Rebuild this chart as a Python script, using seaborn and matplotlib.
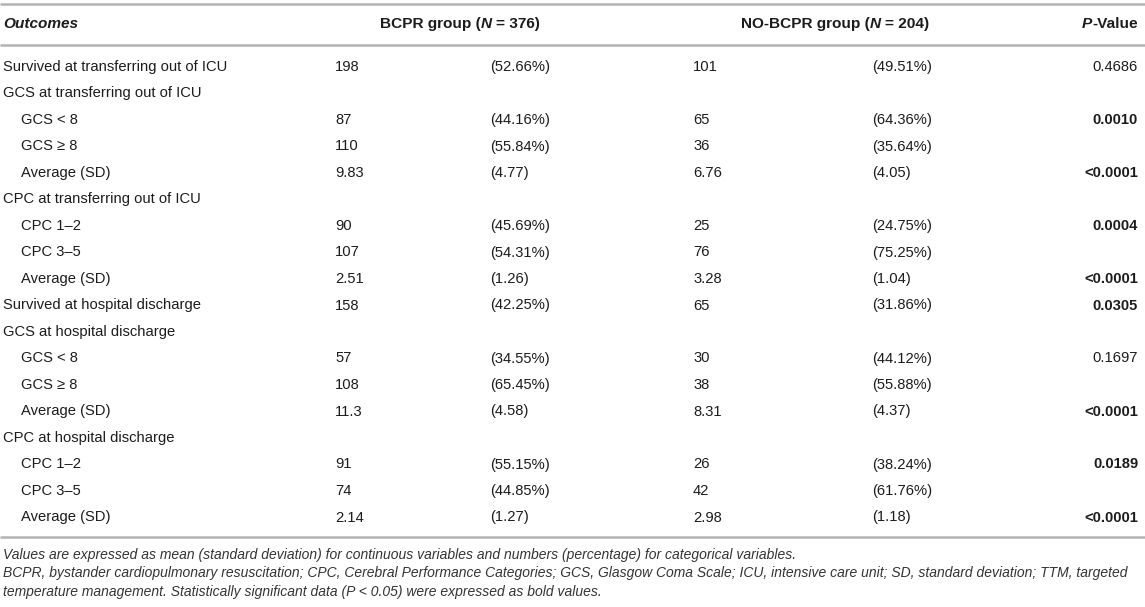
import matplotlib
matplotlib.use("Agg")
import matplotlib.pyplot as plt
import seaborn as sns

sns.set_theme(style="white")
plt.rcParams['font.family'] = ['Liberation Sans', 'DejaVu Sans']

# table content
labels = ["Survived at transferring out of ICU", "GCS at transferring out of ICU",
          "GCS < 8", "GCS \u2265 8", "Average (SD)",
          "CPC at transferring out of ICU", "CPC 1\u20132", "CPC 3\u20135", "Average (SD)",
          "Survived at hospital discharge", "GCS at hospital discharge",
          "GCS < 8", "GCS \u2265 8", "Average (SD)",
          "CPC at hospital discharge", "CPC 1\u20132", "CPC 3\u20135", "Average (SD)"]
indented = [0, 0, 1, 1, 1, 0, 1, 1, 1, 0, 0, 1, 1, 1, 0, 1, 1, 1]
bcpr_n = ["198", "", "87", "110", "9.83", "", "90", "107", "2.51",
          "158", "", "57", "108", "11.3", "", "91", "74", "2.14"]
bcpr_pct = ["(52.66%)", "", "(44.16%)", "(55.84%)", "(4.77)", "", "(45.69%)", "(54.31%)", "(1.26)",
            "(42.25%)", "", "(34.55%)", "(65.45%)", "(4.58)", "", "(55.15%)", "(44.85%)", "(1.27)"]
nobcpr_n = ["101", "", "65", "36", "6.76", "", "25", "76", "3.28",
            "65", "", "30", "38", "8.31", "", "26", "42", "2.98"]
nobcpr_pct = ["(49.51%)", "", "(64.36%)", "(35.64%)", "(4.05)", "", "(24.75%)", "(75.25%)", "(1.04)",
              "(31.86%)", "", "(44.12%)", "(55.88%)", "(4.37)", "", "(38.24%)", "(61.76%)", "(1.18)"]
p_values = ["0.4686", "", "0.0010", "", "<0.0001", "", "0.0004", "", "<0.0001",
            "0.0305", "", "0.1697", "", "<0.0001", "", "0.0189", "", "<0.0001"]
p_bold = [0, 0, 1, 0, 1, 0, 1, 0, 1, 1, 0, 0, 0, 1, 0, 1, 0, 1]

headers = [("BCPR group (", "N", "= 376)"), ("NO-BCPR group (", "N", "= 204)")]

footnotes = [
    "Values are expressed as mean (standard deviation) for continuous variables and numbers (percentage) for categorical variables.",
    "BCPR, bystander cardiopulmonary resuscitation; CPC, Cerebral Performance Categories; GCS, Glasgow Coma Scale; ICU, intensive care unit; SD, standard deviation; TTM, targeted",
    "temperature management. Statistically significant data (P < 0.05) were expressed as bold values.",
]

W, H = 1145, 607
fig = plt.figure(figsize=(W / 100, H / 100), dpi=100)
ax = fig.add_axes([0, 0, 1, 1])
ax.set_xlim(0, W)
ax.set_ylim(H, 0)
ax.axis("off")
renderer = fig.canvas.get_renderer()

fs = 10.6
hfs = 11.1
line_col = "#b3b3b3"
txt_col = "#1c1c1c"


def runs_text(xc, y, parts, size):
    """draw bold header made of pieces, middle one italic, centred on xc"""
    styles = ["normal", "italic", "normal"]
    space = 0.278 * size * 100 / 72
    arts, widths = [], []
    for s, st in zip(parts, styles):
        t = ax.text(0, y, s, fontsize=size, fontweight="bold", fontstyle=st,
                    ha="left", va="center", color=txt_col)
        arts.append(t)
        widths.append(t.get_window_extent(renderer).width)
    total = sum(widths) + space
    x = xc - total / 2
    for k, t in enumerate(arts):
        t.set_x(x)
        x += widths[k] + (space if k == 1 else 0)


# rules
for y in (4, 45, 537):
    ax.plot([0, W], [y, y], color=line_col, lw=1.8, solid_capstyle="butt")

# header
hy = 24
ax.text(3, hy, "Outcomes", fontsize=hfs, fontweight="bold", fontstyle="italic",
        ha="left", va="center", color=txt_col)
runs_text(460, hy, headers[0], hfs)
runs_text(835, hy, headers[1], hfs)
pv = ax.text(1138, hy, "-Value", fontsize=hfs, fontweight="bold",
             ha="right", va="center", color=txt_col)
pw = pv.get_window_extent(renderer).width
ax.text(1138 - pw, hy, "P", fontsize=hfs, fontweight="bold", fontstyle="italic",
        ha="right", va="center", color=txt_col)

# body
y0, dy = 67, 26.5
for i, lab in enumerate(labels):
    y = y0 + i * dy
    ax.text(21 if indented[i] else 3, y, lab, fontsize=fs, ha="left", va="center", color=txt_col)
    ax.text(335, y, bcpr_n[i], fontsize=fs, ha="left", va="center", color=txt_col)
    ax.text(490, y, bcpr_pct[i], fontsize=fs, ha="left", va="center", color=txt_col)
    ax.text(693, y, nobcpr_n[i], fontsize=fs, ha="left", va="center", color=txt_col)
    ax.text(872, y, nobcpr_pct[i], fontsize=fs, ha="left", va="center", color=txt_col)
    ax.text(1138, y, p_values[i], fontsize=fs, ha="right", va="center", color=txt_col,
            fontweight="bold" if p_bold[i] else "normal")

# footnotes
for j, note in enumerate(footnotes):
    ax.text(3, 555 + j * 18.5, note, fontsize=10.0, fontstyle="italic",
            ha="left", va="center", color="#333333")

fig.savefig("out.png", dpi=100)
